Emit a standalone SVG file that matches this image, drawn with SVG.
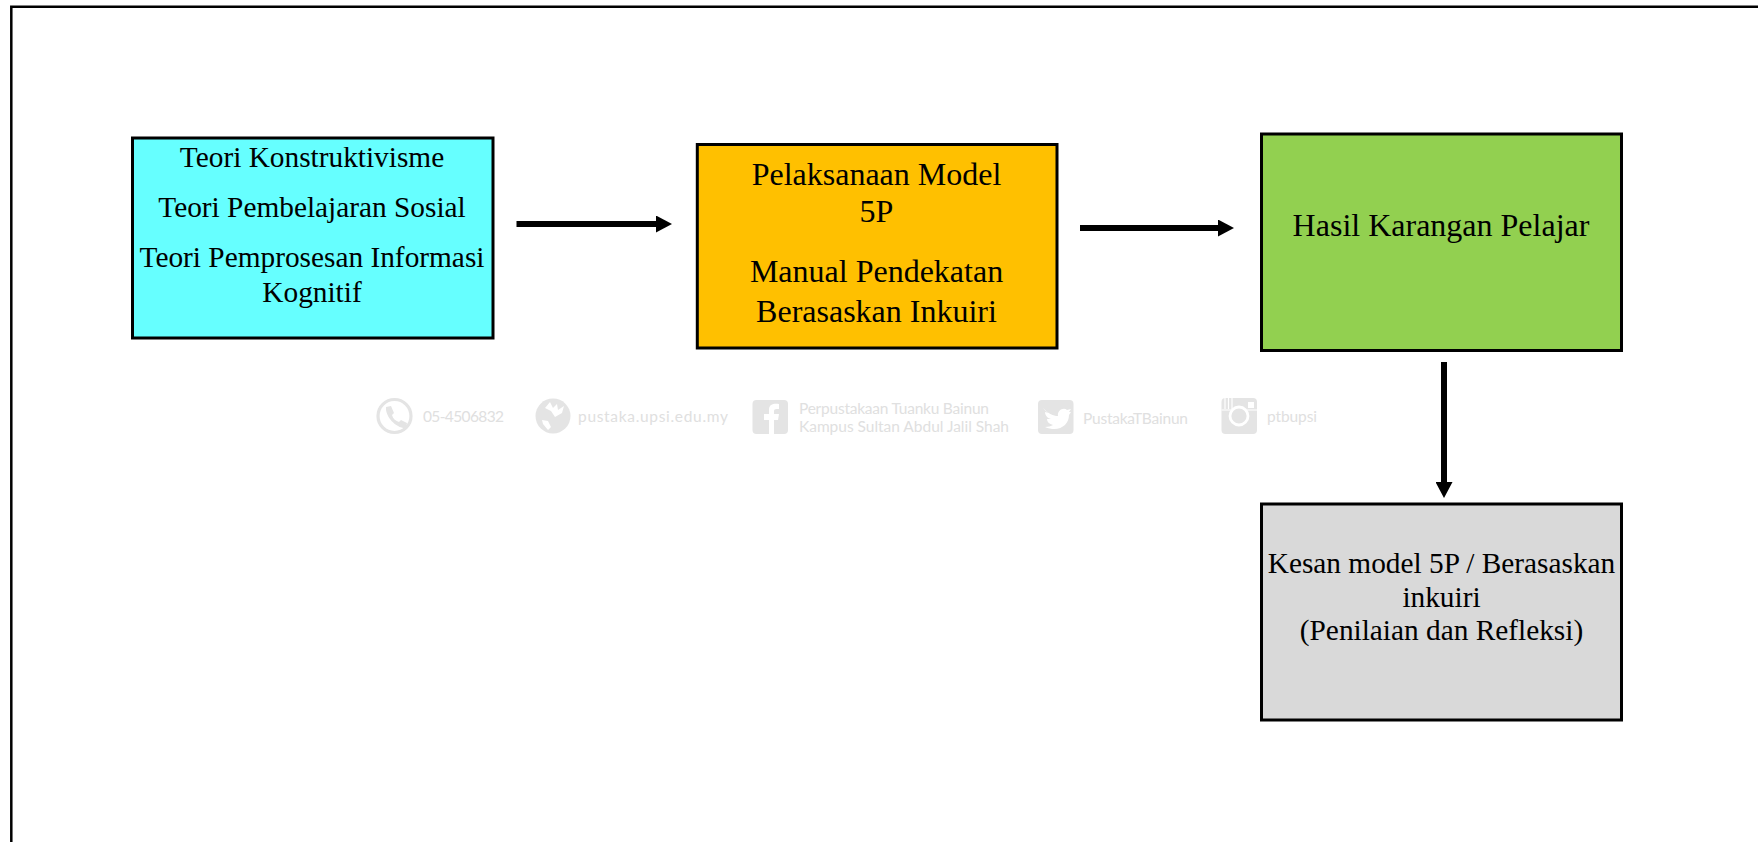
<svg xmlns="http://www.w3.org/2000/svg" width="1758" height="842" viewBox="0 0 1758 842">
<style>
.box{stroke:#000;stroke-width:3}
.t{font-family:"Liberation Serif","Times New Roman",serif;font-size:29.330px;fill:#000;text-anchor:middle}
.l{font-size:32px}
.w{font-family:Lato,"Open Sans",sans-serif;font-size:15.500px;fill:#e0e0e0}
.wi{fill:#e4e4e4}
.c{stroke:#000;stroke-width:6;fill:none}
</style>
<defs>
<marker id="ah" markerUnits="userSpaceOnUse" markerWidth="17" markerHeight="17" refX="0" refY="8.500" orient="auto"><path d="M0 0L16 8.500L0 17Z" fill="#000"/></marker>
</defs>
<rect width="1758" height="842" fill="#fff"/>
<path id="frame" d="M1758 6.800H11.300V842" fill="none" stroke="#000" stroke-width="2.500"/>
<g id="watermark">
<circle cx="394.500" cy="416" r="16.500" fill="none" stroke="#e4e4e4" stroke-width="3.200"/>
<path class="wi" d="M386 407l5-1 3 7-2 2c1 4 4 6 7 7l2-2 6 3-1 5c-9 1-21-11-20-21z"/>
<text class="w" x="423" y="422" textLength="81">05-4506832</text>
<circle class="wi" cx="553" cy="416" r="17.500"/>
<path d="M550 402l3 6 4-4 1 6 6-4-2 7-7 4-4-6-6-3zM542 420l6 1 3 6-3 3-5-6z" fill="#fff"/>
<text class="w" x="578" y="422" textLength="150">pustaka.upsi.edu.my</text>
<rect class="wi" x="752.500" y="400" width="35.500" height="34" rx="4"/>
<path d="M769 434v-14h-5v-6h5v-4c0-5 3-7 10-6v5c-3 0-5 0-5 2v3h5l-1 6h-4v14z" fill="#fff"/>
<text class="w" x="799" y="414" textLength="190">Perpustakaan Tuanku Bainun</text>
<text class="w" x="799" y="432" textLength="210">Kampus Sultan Abdul Jalil Shah</text>
<rect class="wi" x="1038" y="400" width="35.500" height="34" rx="4"/>
<path d="M1043 408c6 6 10 8 15 8-1-6 6-9 9-6l4-1-2 3h2l-2 3c0 10-10 18-24 12 3 0 6-1 8-2-4-1-6-3-6-6h4c-4-1-6-4-6-7l4 1c-4-2-5-4-6-5z" fill="#fff"/>
<text class="w" x="1083" y="424" textLength="105">PustakaTBainun</text>
<rect class="wi" x="1221.500" y="398" width="35.500" height="36" rx="4"/>
<circle cx="1239" cy="416" r="9" fill="none" stroke="#fff" stroke-width="2.800"/>
<rect x="1248" y="402" width="6" height="6" fill="#fff"/>
<path d="M1225 398v11M1228.500 398v11M1232 398v11M1221.500 410h10M1247 410h10" stroke="#fff" stroke-width="1.200"/>
<text class="w" x="1267" y="422" textLength="50">ptbupsi</text>
</g>
<g id="connectors">
<path class="c" d="M516.500 224H656" marker-end="url(#ah)"/>
<path class="c" d="M1080 228H1218" marker-end="url(#ah)"/>
<path class="c" d="M1444 362V482" marker-end="url(#ah)"/>
</g>
<g id="node-teori">
<rect class="box" x="132.500" y="138" width="360.500" height="200" fill="#66ffff"/>
<text class="t" x="312" y="167">Teori Konstruktivisme</text>
<text class="t" x="312" y="217">Teori Pembelajaran Sosial</text>
<text class="t" x="312" y="267">Teori Pemprosesan Informasi</text>
<text class="t" x="312" y="301.500">Kognitif</text>
</g>
<g id="node-pelaksanaan">
<rect class="box" x="697.300" y="144.500" width="359.700" height="203.500" fill="#ffc000"/>
<text class="t l" x="876.500" y="185">Pelaksanaan Model</text>
<text class="t l" x="876.500" y="222">5P</text>
<text class="t l" x="876.500" y="282">Manual Pendekatan</text>
<text class="t l" x="876.500" y="321.500">Berasaskan Inkuiri</text>
</g>
<g id="node-hasil">
<rect class="box" x="1261.500" y="134" width="360" height="216.500" fill="#92d050"/>
<text class="t l" x="1441" y="236">Hasil Karangan Pelajar</text>
</g>
<g id="node-kesan">
<rect class="box" x="1261.500" y="504" width="360" height="216" fill="#d9d9d9"/>
<text class="t" x="1441.500" y="573">Kesan model 5P / Berasaskan</text>
<text class="t" x="1441.500" y="606.500">inkuiri</text>
<text class="t" x="1441.500" y="640">(Penilaian dan Refleksi)</text>
</g>
</svg>
